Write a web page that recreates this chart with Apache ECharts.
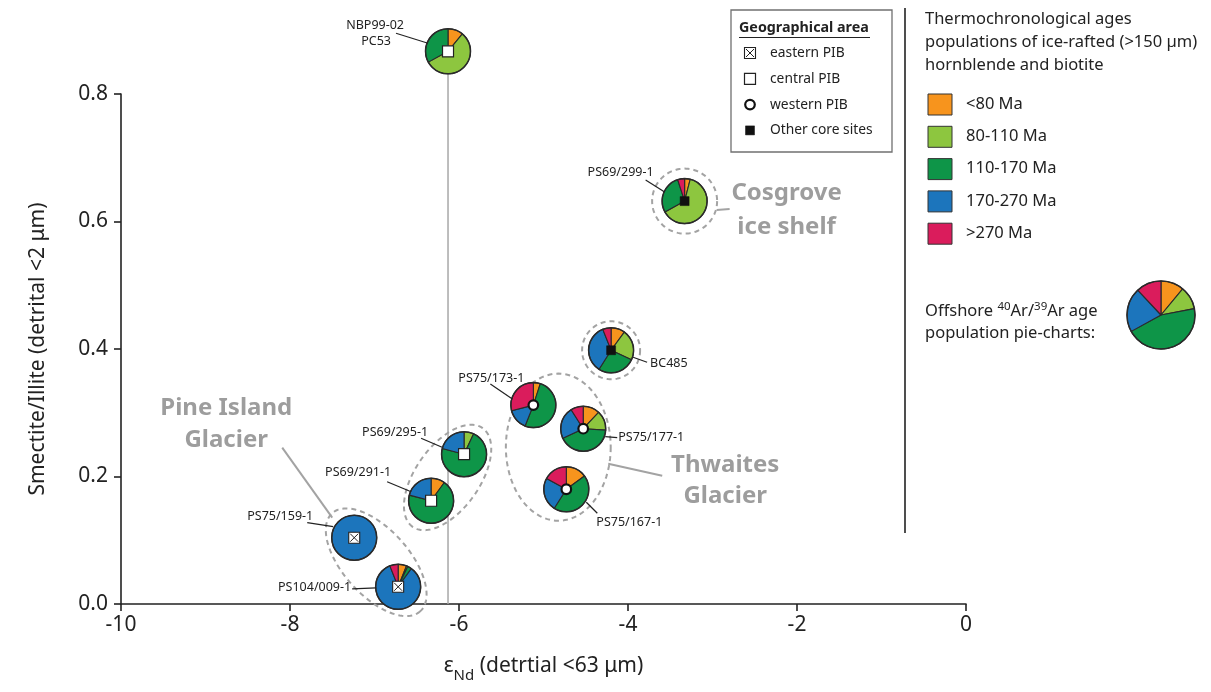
<!DOCTYPE html>
<html>
<head>
<meta charset="utf-8">
<title>Smectite/Illite vs εNd with Ar/Ar age populations</title>
<script src="https://cdn.jsdelivr.net/npm/echarts@6/dist/echarts.min.js"></script>
<style>
  html, body { margin: 0; padding: 0; background: #ffffff; }
  #chart { width: 1211px; height: 692px; }
</style>
</head>
<body>
<div id="chart"></div>
<script>
// ---------------------------------------------------------------------------
// Data
// ---------------------------------------------------------------------------
const siteNames = ['NBP99-02 PC53', 'PS69/299-1', 'BC485', 'PS75/173-1', 'PS75/177-1',
                   'PS75/167-1', 'PS69/295-1', 'PS69/291-1', 'PS75/159-1', 'PS104/009-1'];
const epsNd          = [-6.13, -3.33, -4.20, -5.12, -4.53, -4.73, -5.94, -6.33, -7.24, -6.72];
const smectiteIllite = [0.867, 0.632, 0.398, 0.312, 0.275, 0.180, 0.235, 0.162, 0.104, 0.027];
const siteArea       = ['central', 'other', 'other', 'western', 'western',
                        'western', 'central', 'central', 'eastern', 'eastern'];

// 40Ar/39Ar age populations of ice-rafted hornblende and biotite (% of grains)
const ageLt80    = [11,  4, 10,  5, 12, 15,  0, 10,   0,  6];
const age80to110 = [56, 63, 22,  0, 14,  0,  7,  0,   0,  1];
const age110to170= [33, 28, 27, 51, 42, 44, 72, 69,   0,  3];
const age170to270= [ 0,  0, 35, 15, 23, 24, 21, 21, 100, 84];
const ageGt270   = [ 0,  5,  6, 29,  9, 17,  0,  0,   0,  6];
const ageBinLabels = ['<80 Ma', '80-110 Ma', '110-170 Ma', '170-270 Ma', '>270 Ma'];
const examplePie   = [11, 11, 45, 21, 12];

// Axis ranges and tick labels
const xRange = { min: -10, max: 0, step: 2 };
const yRange = { min: 0, max: 0.8, step: 0.2 };

// Area legend entries
const areaKeys   = ['eastern', 'central', 'western', 'other'];
const areaLabels = ['eastern PIB', 'central PIB', 'western PIB', 'Other core sites'];

// ---------------------------------------------------------------------------
// Styling / layout
// ---------------------------------------------------------------------------
const FONT = '"Noto Sans", "Open Sans", sans-serif';
const binColors = ['#f7941d', '#8dc63f', '#0e9548', '#1c75bc', '#da1c5c'];
const EDGE = '#2a2a2a';
const GREY = '#9d9d9d';
const PIE_R = 22.5;
const ageSeries = [ageLt80, age80to110, age110to170, age170to270, ageGt270];

// Site label placement (pixel offsets from the pie centre)
const labelLayout = [
  { texts: [['NBP99-02', -44, -26, 'right'], ['PC53', -57, -10, 'right']], line: [-52, -18, -20, -8] },
  { texts: [['PS69/299-1', -64, -29, 'center']], line: [-39, -21, -20, -9] },
  { texts: [['BC485', 39, 13, 'left']], line: [22, 7, 36, 12] },
  { texts: [['PS75/173-1', -42, -27, 'center']], line: [-43, -21, -21, -6] },
  { texts: [['PS75/177-1', 35, 9, 'left']], line: [22, 8, 34, 9] },
  { texts: [['PS75/167-1', 30, 33, 'left']], line: [20, 13, 31, 24] },
  { texts: [['PS69/295-1', -69, -22, 'center']], line: [-43, -16, -22, -7] },
  { texts: [['PS69/291-1', -73, -28, 'center']], line: [-44, -19, -20, -9] },
  { texts: [['PS75/159-1', -74, -21, 'center']], line: [-47, -15, -21, -11] },
  { texts: [['PS104/009-1', -47, 1, 'right']], line: [-46, 2, -22, 1] }
];

// Dashed outlines grouping sites
const outlines = [
  { members: [1], kind: 'circle', pad: 10 },
  { members: [2], kind: 'circle', pad: 6.5 },
  { members: [3, 4, 5], kind: 'box', padX: 5, padY: 9 },
  { members: [6, 7], kind: 'pair', pad: 9.5 },
  { members: [8, 9], kind: 'pair', pad: 10.5 }
];

// Grey region names (anchored to a site, pixel offsets)
const regionNotes = [
  { anchor: 8, lines: ['Pine Island', 'Glacier'], dx: -128, dy: -130, lh: 32, lead: [-72, -90, -22, -20] },
  { anchor: 4, lines: ['Thwaites', 'Glacier'], dx: 142, dy: 36, lh: 31, lead: [25, 35, 79, 47] },
  { anchor: 1, lines: ['Cosgrove', 'ice shelf'], dx: 102, dy: -8, lh: 34, lead: [32, 9, 45, 8] }
];

// ---------------------------------------------------------------------------
// Drawing helpers
// ---------------------------------------------------------------------------
function pieSectors(cx, cy, r, values, lw) {
  const total = values.reduce((a, b) => a + b, 0);
  const out = [];
  let a = -Math.PI / 2;
  values.forEach((v, k) => {
    if (!v) return;
    const a1 = a + v / total * Math.PI * 2;
    out.push({
      type: 'sector',
      shape: { cx: cx, cy: cy, r0: 0, r: r, startAngle: a, endAngle: a1, clockwise: true },
      style: { fill: binColors[k], stroke: EDGE, lineWidth: lw, lineJoin: 'round' }
    });
    a = a1;
  });
  out.push({ type: 'circle', shape: { cx: cx, cy: cy, r: r },
             style: { fill: 'none', stroke: EDGE, lineWidth: lw + 0.4 } });
  return out;
}

function areaMarker(kind, cx, cy) {
  if (kind === 'central') {
    return [{ type: 'rect', shape: { x: cx - 5.5, y: cy - 5.5, width: 11, height: 11 },
              style: { fill: '#ffffff', stroke: '#222', lineWidth: 1.2 } }];
  }
  if (kind === 'western') {
    return [{ type: 'circle', shape: { cx: cx, cy: cy, r: 4.8 },
              style: { fill: '#ffffff', stroke: '#111', lineWidth: 2.2 } }];
  }
  if (kind === 'eastern') {
    return [
      { type: 'rect', shape: { x: cx - 5.5, y: cy - 5.5, width: 11, height: 11 },
        style: { fill: '#ffffff', stroke: '#222', lineWidth: 1.1 } },
      { type: 'line', shape: { x1: cx - 4, y1: cy - 4, x2: cx + 4, y2: cy + 4 },
        style: { stroke: '#222', lineWidth: 1 } },
      { type: 'line', shape: { x1: cx - 4, y1: cy + 4, x2: cx + 4, y2: cy - 4 },
        style: { stroke: '#222', lineWidth: 1 } }
    ];
  }
  return [{ type: 'rect', shape: { x: cx - 4.5, y: cy - 4.5, width: 9, height: 9 },
            style: { fill: '#111', stroke: '#111', lineWidth: 0.5 } }];
}

function ellipsePoints(cx, cy, rx, ry, ang) {
  const pts = [];
  const c = Math.cos(ang), s = Math.sin(ang);
  for (let i = 0; i < 120; i++) {
    const t = i / 120 * Math.PI * 2;
    const ex = rx * Math.cos(t), ey = ry * Math.sin(t);
    pts.push([cx + ex * c - ey * s, cy + ex * s + ey * c]);
  }
  return pts;
}

function dashed(points) {
  return { type: 'polygon', shape: { points: points },
           style: { fill: 'none', stroke: '#a3a3a3', lineWidth: 2, lineDash: [5, 4] } };
}

// ---------------------------------------------------------------------------
// Chart
// ---------------------------------------------------------------------------
const chart = echarts.init(document.getElementById('chart'), null, { renderer: 'canvas' });
const siteData = siteNames.map((n, i) => [epsNd[i], smectiteIllite[i], i]);

// Legend elements (right-hand panel and area key)
const legendGraphics = [];
legendGraphics.push({ type: 'line', shape: { x1: 905, y1: 8, x2: 905, y2: 533 },
                      style: { stroke: '#222', lineWidth: 1.6 } });
['Thermochronological ages', 'populations of ice-rafted (>150 µm)', 'hornblende and biotite']
  .forEach((t, i) => legendGraphics.push({ type: 'text', x: 925, y: 19 + i * 23,
    style: { text: t, font: '16.5px ' + FONT, fill: '#222', verticalAlign: 'middle' } }));
ageBinLabels.forEach((lab, k) => {
  const cy = 104 + k * 32.3;
  legendGraphics.push({ type: 'rect', shape: { x: 928, y: cy - 10, width: 24, height: 21 },
    style: { fill: binColors[k], stroke: '#333', lineWidth: 1 } });
  legendGraphics.push({ type: 'text', x: 966, y: cy,
    style: { text: lab, font: '16.5px ' + FONT, fill: '#222', verticalAlign: 'middle' } });
});
legendGraphics.push({ type: 'text', x: 925, y: 309, style: {
  text: '{n|Offshore }{s|40}{n|Ar/}{s|39}{n|Ar age}', verticalAlign: 'middle',
  rich: { n: { fontSize: 16.5, fontFamily: FONT, fill: '#222', verticalAlign: 'bottom', lineHeight: 22 },
          s: { fontSize: 11.5, fontFamily: FONT, fill: '#222', verticalAlign: 'bottom', lineHeight: 22, padding: [0, 0, 7, 0] } } } });
legendGraphics.push({ type: 'text', x: 925, y: 333,
  style: { text: 'population pie-charts:', font: '16.5px ' + FONT, fill: '#222', verticalAlign: 'middle' } });
pieSectors(1161, 315, 34, examplePie, 1.1).forEach(e => legendGraphics.push(e));

// Area key
legendGraphics.push({ type: 'rect', shape: { x: 731, y: 10, width: 161, height: 142 },
  style: { fill: '#ffffff', stroke: '#707070', lineWidth: 1.3 } });
legendGraphics.push({ type: 'text', x: 739, y: 28,
  style: { text: 'Geographical area', font: 'bold 14.3px ' + FONT, fill: '#222', verticalAlign: 'middle' } });
legendGraphics.push({ type: 'line', shape: { x1: 739, y1: 37.5, x2: 870, y2: 37.5 },
  style: { stroke: '#222', lineWidth: 1 } });
areaKeys.forEach((k, i) => {
  const cy = 53 + i * 25.8;
  areaMarker(k, 750, cy).forEach(e => legendGraphics.push(e));
  legendGraphics.push({ type: 'text', x: 770, y: cy,
    style: { text: areaLabels[i], font: '13.8px ' + FONT, fill: '#222', verticalAlign: 'middle' } });
});

const option = {
  animation: false,
  backgroundColor: '#ffffff',
  grid: { left: 121, right: 245, top: 94, bottom: 88, containLabel: false },
  xAxis: {
    type: 'value', min: xRange.min, max: xRange.max, interval: xRange.step,
    name: '{e|ε}{s|Nd}{t| (detrtial <63 μm)}',
    nameLocation: 'middle', nameGap: 51,
    nameTextStyle: { rich: {
      e: { fontSize: 21, fontFamily: FONT, color: '#222', verticalAlign: 'bottom', lineHeight: 28, padding: [0, 0, 6, 0] },
      s: { fontSize: 15, fontFamily: FONT, color: '#222', verticalAlign: 'bottom', lineHeight: 28 },
      t: { fontSize: 21, fontFamily: FONT, color: '#222', verticalAlign: 'bottom', lineHeight: 28, padding: [0, 0, 6, 0] }
    } },
    axisLine: { onZero: false, lineStyle: { color: '#222', width: 1.6 } },
    axisTick: { inside: false, length: 7, lineStyle: { color: '#222', width: 1.6 } },
    axisLabel: { fontSize: 21, fontFamily: FONT, color: '#222', margin: 11 },
    splitLine: { show: false }
  },
  yAxis: {
    type: 'value', min: yRange.min, max: yRange.max, interval: yRange.step,
    name: 'Smectite/Illite (detrital <2 μm)',
    nameLocation: 'middle', nameGap: 72,
    nameTextStyle: { fontSize: 21, fontFamily: FONT, color: '#222' },
    axisLine: { onZero: false, lineStyle: { color: '#222', width: 1.6 } },
    axisTick: { inside: false, length: 7, lineStyle: { color: '#222', width: 1.6 } },
    axisLabel: { fontSize: 21, fontFamily: FONT, color: '#222', margin: 13,
                 formatter: v => v.toFixed(1) },
    splitLine: { show: false }
  },
  graphic: legendGraphics,
  series: [
    // Vertical reference line below NBP99-02 PC53
    {
      type: 'custom', z: 1, silent: true,
      data: [[epsNd[0], smectiteIllite[0]]],
      encode: { x: 0, y: 1 },
      renderItem: (params, api) => {
        const top = api.coord([api.value(0), api.value(1)]);
        const bot = api.coord([api.value(0), yRange.min]);
        return { type: 'line', shape: { x1: top[0], y1: top[1], x2: bot[0], y2: bot[1] },
                 style: { stroke: '#a8a8a8', lineWidth: 1.5 } };
      }
    },
    // Dashed outlines and grey region names
    {
      type: 'custom', z: 2, silent: true,
      data: [[epsNd[0], smectiteIllite[0]]],
      encode: { x: 0, y: 1 },
      renderItem: (params, api) => {
        const pos = siteData.map(d => api.coord([d[0], d[1]]));
        const children = [];
        outlines.forEach(g => {
          const ps = g.members.map(m => pos[m]);
          if (g.kind === 'circle') {
            const p = ps[0];
            children.push(dashed(ellipsePoints(p[0], p[1], PIE_R + g.pad, PIE_R + g.pad, 0)));
          } else if (g.kind === 'pair') {
            const a = ps[0], b = ps[1];
            const dx = b[0] - a[0], dy = b[1] - a[1];
            const d = Math.sqrt(dx * dx + dy * dy);
            children.push(dashed(ellipsePoints((a[0] + b[0]) / 2, (a[1] + b[1]) / 2,
              d / 2 + PIE_R + g.pad, PIE_R + g.pad, Math.atan2(dy, dx))));
          } else {
            const xs = ps.map(p => p[0]), ys = ps.map(p => p[1]);
            const x0 = Math.min(...xs) - PIE_R, x1 = Math.max(...xs) + PIE_R;
            const y0 = Math.min(...ys) - PIE_R, y1 = Math.max(...ys) + PIE_R;
            children.push(dashed(ellipsePoints((x0 + x1) / 2, (y0 + y1) / 2,
              (x1 - x0) / 2 + g.padX, (y1 - y0) / 2 + g.padY, 0)));
          }
        });
        regionNotes.forEach(n => {
          const p = pos[n.anchor];
          children.push({ type: 'line',
            shape: { x1: p[0] + n.lead[0], y1: p[1] + n.lead[1], x2: p[0] + n.lead[2], y2: p[1] + n.lead[3] },
            style: { stroke: '#a3a3a3', lineWidth: 2 } });
          n.lines.forEach((t, i) => children.push({ type: 'text',
            style: { text: t, x: p[0] + n.dx, y: p[1] + n.dy + i * n.lh,
                     font: 'bold 24px ' + FONT, fill: GREY, align: 'center', verticalAlign: 'middle' } }));
        });
        return { type: 'group', children: children };
      }
    },
    // Age-population pies at each core site
    {
      type: 'custom', z: 5,
      data: siteData,
      encode: { x: 0, y: 1 },
      renderItem: (params, api) => {
        const i = params.dataIndex;
        const c = api.coord([api.value(0), api.value(1)]);
        const vals = ageSeries.map(s => s[i]);
        const children = pieSectors(c[0], c[1], PIE_R, vals, 1.1);
        areaMarker(siteArea[i], c[0], c[1]).forEach(e => children.push(e));
        const lay = labelLayout[i];
        const L = lay.line;
        children.push({ type: 'line',
          shape: { x1: c[0] + L[0], y1: c[1] + L[1], x2: c[0] + L[2], y2: c[1] + L[3] },
          style: { stroke: '#222', lineWidth: 1.2 } });
        lay.texts.forEach(t => children.push({ type: 'text',
          style: { text: t[0], x: c[0] + t[1], y: c[1] + t[2], font: '12.5px ' + FONT,
                   fill: '#222', align: t[3], verticalAlign: 'middle' } }));
        return { type: 'group', children: children };
      }
    }
  ]
};
chart.setOption(option);
</script>
</body>
</html>
